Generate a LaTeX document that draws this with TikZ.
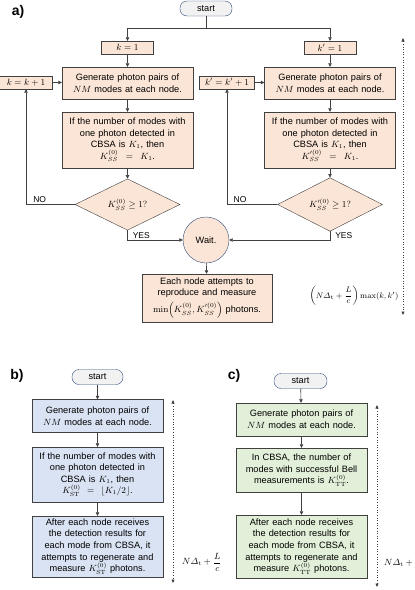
\documentclass[tikz,border=0pt]{standalone}
\usepackage[no-math]{fontspec}
\usepackage{amsmath}
\setmainfont{Liberation Sans}
\usepackage{tikz}
\usetikzlibrary{shapes.geometric,arrows.meta,positioning,calc}

\definecolor{peach}{HTML}{FBE5D6}
\definecolor{paleblue}{HTML}{DAE3F3}
\definecolor{palegreen}{HTML}{E2F0D9}
\definecolor{startfill}{HTML}{F2F2F2}
\definecolor{navy}{HTML}{2F4A7A}
\definecolor{edge}{HTML}{404040}

\begin{document}
\begin{tikzpicture}[
    x=1pt, y=-1pt,
    every node/.style={font=\fontsize{9.2}{11.6}\selectfont},
    startnode/.style={draw=navy, fill=startfill, rounded corners=7pt, minimum width=52pt, minimum height=15pt, inner sep=0pt},
    proc/.style={draw=edge, fill=#1, text width=125pt, inner xsep=3pt, inner ysep=2pt, align=center},
    proc/.default=peach,
    smallproc/.style={draw=edge, fill=peach, minimum height=13pt, inner sep=1pt},
    decision/.style={diamond, draw=edge, fill=peach, minimum width=105pt, minimum height=45pt, inner sep=0pt},
    waitnode/.style={circle, draw=navy, fill=peach, minimum size=46pt, inner sep=0pt},
    flow/.style={draw=edge, line width=0.6pt, -{Triangle[length=3.5pt,width=3.5pt]}},
    timeline/.style={draw=edge, dotted, line width=0.6pt, {Triangle[length=3.5pt,width=3pt]}-{Triangle[length=3.5pt,width=3pt]}},
    tag/.style={font=\fontsize{8.5}{10}\selectfont, inner sep=1pt},
    panel/.style={font=\fontsize{14}{16}\selectfont\bfseries}
]
\useasboundingbox (0,0) rectangle (415,590);

% a) two parallel loops
\node[panel] at (18,12) {a)};
\node[startnode] (starta) at (206,8.5) {start};
\coordinate (split) at (206,28);
\node[smallproc, minimum width=52pt] (ka) at (127.5,47.5) {$k = 1$};
\node[smallproc, minimum width=52pt] (kb) at (330,47.5) {$k' = 1$};
\node[smallproc, minimum width=53pt] (inca) at (26,82.5) {$k = k + 1$};
\node[smallproc, minimum width=55pt] (incb) at (227,82.5) {$k' = k' + 1$};
\node[proc, minimum height=32pt] (gena) at (127.5,83) {Generate photon pairs of\\ $NM$ modes at each node.};
\node[proc, minimum height=32pt] (genb) at (330,83) {Generate photon pairs of\\ $NM$ modes at each node.};
\node[proc, minimum height=56pt] (conda) at (127.5,140) {If the number of modes with\\ one photon detected in\\ CBSA is $K_1$, then\\ $K_{SS}^{(0)} = K_1$.};
\node[proc, minimum height=56pt] (condb) at (330,140) {If the number of modes with\\ one photon detected in\\ CBSA is $K_1$, then\\ $K^{\prime(0)}_{SS} = K_1$.};
\node[decision] (deca) at (127.5,204.5) {$K_{SS}^{(0)} \geq 1?$};
\node[decision] (decb) at (330,204.5) {$K^{\prime(0)}_{SS} \geq 1?$};
\node[waitnode] (wait) at (206,240) {Wait.};
\node[proc, text width=124pt, minimum height=48pt, inner ysep=1pt] (final) at (207,298) {Each node attempts to\\ reproduce and measure\\[3.5pt] $\min\Bigl(K_{SS}^{(0)}, K^{\prime(0)}_{SS}\Bigr)$ photons.};

\draw[flow] (starta) -- (split) -| (ka);
\draw[flow] (split) -| (kb);
\draw[flow] (ka) -- (gena);
\draw[flow] (kb) -- (genb);
\draw[flow] (inca.east) -- (inca.east -| gena.west);
\draw[flow] (incb.east) -- (incb.east -| genb.west);
\draw[flow] (gena) -- (conda);
\draw[flow] (genb) -- (condb);
\draw[flow] (conda) -- (deca);
\draw[flow] (condb) -- (decb);
\draw[flow] (deca.west) -| (inca.south) node[tag, pos=0.36, above=1pt] {NO};
\draw[flow] (decb.west) -| (incb.south) node[tag, pos=0.37, above=1pt] {NO};
\draw[flow] (deca.south) |- (wait.west) node[tag, pos=0.5, anchor=south west, xshift=4pt] {YES};
\draw[flow] (decb.south) |- (wait.east) node[tag, pos=0.5, anchor=south west, xshift=4pt] {YES};
\draw[flow] (wait) -- (final);

\coordinate (ta1) at (403,38);
\coordinate (ta2) at (403,315);
\draw[timeline] (ta1) -- (ta2);
\node[font=\fontsize{8.2}{10}\selectfont, inner sep=0pt] (timea) at (354,296) {$\left(N\varDelta_{\mathrm{t}} + \dfrac{L}{c}\right)\max(k,k')$};

% b)
\node[panel] at (17,376) {b)};
\node[startnode, minimum width=51pt] (startb) at (97.5,377) {start};
\node[proc=paleblue, minimum height=33pt] (genst) at (97.5,416) {Generate photon pairs of\\ $NM$ modes at each node.};
\node[proc=paleblue, minimum height=55pt] (condst) at (97.5,474.5) {If the number of modes with\\ one photon detected in\\ CBSA is $K_1$, then\\ $K_{\mathrm{ST}}^{(0)} = \lfloor K_1/2\rfloor$.};
\node[proc=paleblue, minimum height=61pt] (afterst) at (97.5,546.5) {After each node receives\\ the detection results for\\ each mode from CBSA, it\\ attempts to regenerate and\\ measure $K_{\mathrm{ST}}^{(0)}$ photons.};
\draw[flow] (startb) -- (genst);
\draw[flow] (genst) -- (condst);
\draw[flow] (condst) -- (afterst);
\coordinate (tb1) at (173,400);
\coordinate (tb2) at (173,583);
\draw[timeline] (tb1) -- (tb2);
\node[anchor=west, inner sep=0pt] (timeb) at (182,562) {$N\varDelta_{\mathrm{t}} + \dfrac{L}{c}$};

% c)
\node[panel] at (234,376) {c)};
\node[startnode, minimum width=53pt] (startc) at (300.5,381) {start};
\node[proc=palegreen, minimum height=33pt] (gentt) at (301.5,419.5) {Generate photon pairs of\\ $NM$ modes at each node.};
\node[proc=palegreen, minimum height=44pt] (condtt) at (301.5,470) {In CBSA, the number of\\ modes with successful Bell\\ measurements is $K_{\mathrm{TT}}^{(0)}$.};
\node[proc=palegreen, minimum height=63pt] (aftertt) at (301.5,546.5) {After each node receives\\ the detection results for\\ each mode from CBSA, it\\ attempts to regenerate and\\ measure $K_{\mathrm{TT}}^{(0)}$ photons.};
\draw[flow] (startc) -- (gentt);
\draw[flow] (gentt) -- (condtt);
\draw[flow] (condtt) -- (aftertt);
\coordinate (tc1) at (377,405);
\coordinate (tc2) at (377,587);
\draw[timeline] (tc1) -- (tc2);
\node[anchor=west, inner sep=0pt] (timec) at (384,563) {$N\varDelta_{\mathrm{t}} + \dfrac{L}{c}$};
\end{tikzpicture}
\end{document}
